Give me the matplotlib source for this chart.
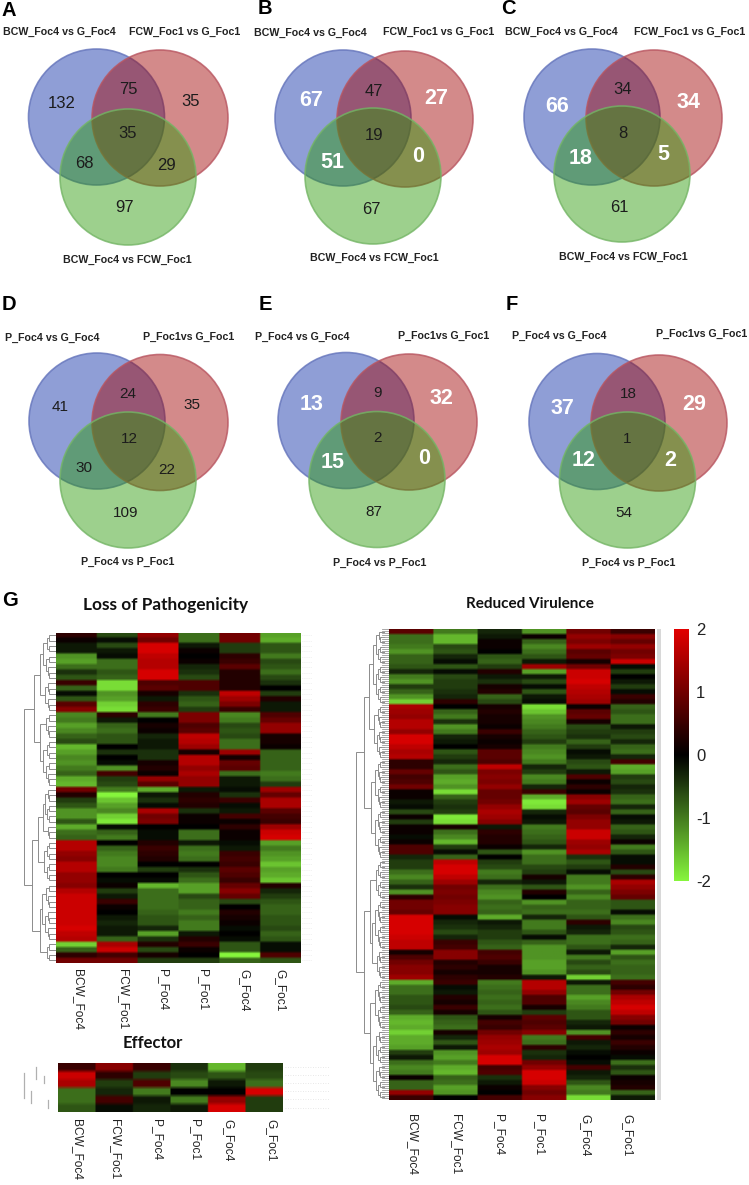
import numpy as np
from matplotlib import pyplot as plt
from matplotlib.cm import ScalarMappable
from matplotlib.colors import LinearSegmentedColormap, Normalize
from matplotlib.patches import Circle

plt.rcParams['font.family'] = ['Liberation Sans', 'DejaVu Sans']
plt.rcParams['axes.unicode_minus'] = False

W, H = 749, 1185

# venn counts: blue only, blue+red, red only, centre, blue+green, red+green, green only
venn_a = [132, 75, 35, 35, 68, 29, 97]
venn_b = [67, 47, 27, 19, 51, 0, 67]
venn_c = [66, 34, 34, 8, 18, 5, 61]
venn_d = [41, 24, 35, 12, 30, 22, 109]
venn_e = [13, 9, 32, 2, 15, 0, 87]
venn_f = [37, 18, 29, 1, 12, 2, 54]

bcw_left = 'BCW_Foc4 vs G_Foc4'
bcw_right = 'FCW_Foc1 vs G_Foc1'
bcw_bottom = 'BCW_Foc4 vs FCW_Foc1'
p_left = 'P_Foc4 vs G_Foc4'
p_right = 'P_Foc1vs G_Foc1'
p_bottom = 'P_Foc4 vs P_Foc1'

samples = ['BCW_Foc4', 'FCW_Foc1', 'P_Foc4', 'P_Foc1', 'G_Foc4', 'G_Foc1']

# Loss of Pathogenicity, one list per sample, rows top to bottom
lop_bcw = [0.4, 0.1, -0.2, -0.2, -1.2, -1.3, -0.9, -0.4, -0.7, 0.5, -0.8, -0.1, -0.7, 0.8, 1.2, -1.1, -1.0, -1.3, -1.1, -0.8, -0.6, -1.5, -1.3, -1.1, -1.2, -1.0, -0.8, -1.4, -1.5, 1.0, 0.3, -0.5, -0.7, -1.2, -1.2, -0.7, -1.4, -0.9, -0.8, 1.6, 1.6, 1.3, 1.2, 1.6, 1.6, 1.3, 1.3, 1.2, 1.6, 1.8, 1.8, 1.8, 1.8, 1.8, 1.8, 1.9, 1.7, 1.6, -1.7, -0.8, 0.4, 1.0]
lop_fcw = [-0.6, -0.1, -0.6, -0.2, -0.1, -0.9, -0.9, -0.7, -0.8, -1.8, -1.8, -1.2, -1.3, -1.7, -1.8, 0.4, -0.2, -0.8, -0.9, -0.7, -0.7, 0.0, -0.4, 0.0, -0.1, -1.2, 0.6, -0.5, -0.6, -1.0, -2.0, -1.6, -1.3, -1.1, -1.7, -1.9, -0.1, -0.8, -1.0, 0.0, -0.8, -1.0, -1.1, -1.1, -1.0, 0.0, -0.1, 0.1, -0.5, -0.2, 0.5, 0.1, 0.0, -0.2, -0.3, -0.2, -0.2, -0.8, 1.5, 1.8, 0.6, 1.0]
lop_p4 = [1.3, 1.0, 1.9, 1.9, 1.7, 1.6, 1.6, 1.9, 1.9, 0.7, 0.8, 0.2, -0.2, 0.4, 0.5, -1.0, 0.0, 0.2, 0.1, -0.3, -0.2, -0.2, -0.4, -0.4, 0.2, 0.3, 0.1, 1.3, 0.8, -1.4, -0.2, -0.4, -0.1, 1.5, 1.0, 1.1, 0.0, -0.1, -0.1, 0.3, 0.5, 0.4, 0.3, 0.0, -0.5, 0.0, -0.1, -1.5, -0.9, -0.9, -0.9, -0.9, -0.8, -0.7, -0.7, -0.3, -1.3, -0.4, 0.3, -0.6, 0.2, -0.5]
lop_p1 = [-0.9, -0.9, -0.2, 0.1, 0.0, 0.1, -0.3, -0.4, -0.6, 0.7, 0.7, -0.4, -0.7, -0.8, -0.5, 1.1, 1.1, 0.7, 0.8, 1.7, 1.6, 1.4, 0.2, 1.6, 1.6, 1.3, 1.5, 1.3, 1.3, -0.2, 0.3, 0.4, 0.3, -0.4, 0.1, 0.1, 0.0, -0.9, -0.9, -0.2, -0.9, -1.0, -0.9, 0.0, -0.4, -0.7, -0.9, -1.3, -1.3, -0.6, -0.8, -0.8, -1.0, -0.8, -1.0, -1.0, -0.2, 0.3, 0.5, 0.1, 0.0, -0.5]
lop_g4 = [1.0, 1.0, -0.5, -0.5, 0.4, 0.5, 0.8, 0.3, 0.3, 0.3, 0.3, 1.7, 1.4, 1.1, 0.5, -1.1, -1.0, -0.6, -0.7, -0.6, -0.9, -0.9, 1.4, 0.2, 0.9, 0.8, -0.9, -0.2, -0.2, -0.1, -0.4, 0.5, -0.1, -0.2, 0.6, 0.1, 0.4, 0.1, 0.1, -0.1, -0.2, 0.5, 0.6, 0.5, 0.8, 0.7, 0.5, 0.9, 1.2, 0.9, -0.6, 0.0, 0.3, 0.2, 0.1, -0.1, 0.0, -0.1, -0.7, -0.7, -2.0, -0.8]
lop_g1 = [-1.3, -1.4, -0.7, -0.7, -1.0, -0.6, -0.7, -0.9, -0.6, -0.4, 0.0, -0.5, 0.3, -0.2, -0.2, 0.7, 0.9, 1.3, 1.3, 0.2, 0.2, 0.1, -0.8, -0.8, -0.8, -0.8, -1.0, -0.9, -0.5, 1.4, 0.9, 1.5, 1.5, 0.8, 0.6, 0.5, 1.4, 1.8, 1.9, -1.3, -1.0, -1.2, -1.3, -1.6, -1.3, -1.4, -1.6, 0.3, -0.3, -0.5, -0.7, -0.8, -0.8, -0.7, -0.7, -0.6, -0.8, -0.7, -0.1, -0.1, 0.7, -0.7]

# Reduced Virulence
rv_bcw = [0.8, -0.9, -0.9, -1.0, -1.2, -0.8, -0.8, -0.7, -0.3, -1.0, -1.2, -0.5, -0.8, -1.2, -1.7, 1.5, 1.4, 1.3, 1.6, 1.6, 1.3, 1.9, 1.9, 1.7, 1.5, 1.6, 0.4, 0.4, 0.9, 0.6, 0.7, 1.0, 0.1, 0.1, -0.2, -0.1, -0.6, 0.1, -0.5, 0.1, 0.1, -0.1, 0.1, 0.7, 0.7, -0.3,
          -0.5, -0.5, -0.9, -1.1, -0.8, -0.4, -1.2, 0.4, 1.0, 1.0, 0.9, 1.9, 1.9, 1.9, 1.9, 1.8, 1.7, 1.7, 0.2, 0.7, 1.0, 1.2, 1.2, 1.4, -1.4, -0.9, -0.9, -0.7, -0.7, -0.6, -0.8, -1.4, -1.5, -1.4, -1.7, -1.4, -1.4, -1.3, -0.5, -0.2, -0.9, -1.1, -1.0, 0.1, -0.8, -0.8, 1.3, 0.5]
rv_fcw = [-1.0, -1.5, -1.5, -0.6, -0.7, -0.3, -0.1, -0.7, -0.1, -0.6, -0.5, -0.5, -0.4, -0.3, 0.4, 0.0, -0.8, -1.0, -0.4, -1.2, -1.0, -0.3, -0.2, 0.0, -0.7, -0.5, -0.3, -0.9, -0.7, -1.3, -1.4, -1.2, -1.8, -0.8, -0.5, -0.4, -0.5, -1.9, -1.8, 0.2, -0.9, -1.1, -1.5, -0.5, -0.1, -0.8,
          1.7, 1.9, 1.9, 1.7, 1.4, 1.0, 1.1, 1.0, 1.1, 1.2, 1.2, -0.1, -0.3, -0.4, -0.6, -0.3, 0.5, 0.6, 1.2, 1.2, 0.3, 0.4, 0.2, 0.4, 0.5, -0.1, -0.2, 0.3, 0.2, 0.5, 0.2, -0.7, -0.8, -0.9, 0.2, -0.3, -0.7, -0.2, -1.2, -1.3, -1.0, -1.4, -1.5, -0.8, -0.9, -1.3, -1.2, 0.0]
rv_p4 = [-0.3, -0.2, 0.1, 0.1, 0.0, -0.7, -0.8, -0.5, 0.3, -0.2, -0.4, 0.2, 0.3, -0.8, -0.6, 0.2, 0.3, 0.2, 0.2, 0.1, 0.5, 0.2, 0.1, 0.2, 0.8, 0.8, 0.7, 1.7, 1.1, 1.2, 1.1, 1.3, 0.9, 0.9, 1.0, 1.3, 1.5, 1.4, 1.2, -0.2, 0.4, 0.3, 0.3, 0.1, -0.7, 0.0,
         -0.5, -0.6, -1.0, -0.9, -0.3, -0.9, -1.1, -1.2, -0.8, -0.9, -0.8, -1.4, -0.2, -0.3, -0.5, -0.5, -0.7, -0.8, 0.6, 0.7, 0.5, 0.2, 0.2, 0.3, -1.0, -0.9, -0.8, -0.9, -0.8, -0.9, -0.7, 0.2, 0.6, 0.5, 1.0, 1.3, 1.4, 1.5, 1.4, 1.9, 1.9, 0.6, 0.7, -0.4, -0.2, 0.1, 0.0, 0.6]
rv_p1 = [-1.2, 0.1, -0.8, -1.1, -0.9, -0.7, -0.2, 1.4, -1.3, -0.2, -0.6, -0.1, -0.7, -0.2, -0.1, -1.8, -1.6, -1.2, -1.1, -1.0, -0.8, -0.7, -0.5, -1.0, -1.1, -1.2, -1.0, -0.3, -0.5, -1.1, -1.0, -0.3, 0.5, -1.4, -1.9, -1.8, -0.3, -0.1, -0.2, -1.0, -0.9, -0.8, -0.7, -0.3, -1.2, -0.9,
         -0.9, -0.6, -0.5, 0.2, -0.2, -0.7, 0.3, 0.0, -1.2, -0.8, -0.9, -0.3, -1.0, -1.0, -0.7, -0.1, -0.8, -1.2, -1.2, -1.2, -1.3, -1.3, -1.2, -0.2, 1.6, 1.6, 1.3, 0.7, 0.7, 0.2, -0.5, 0.8, 0.7, 0.8, 1.2, -1.0, -0.9, 0.4, -0.4, -0.3, 1.0, 1.3, 1.9, 1.9, 1.8, 1.2, 1.0, 1.2]
rv_g4 = [1.0, 1.3, 1.1, 1.4, 0.8, 0.9, 0.2, 1.0, 1.8, 1.8, 1.9, 1.7, 1.6, 1.5, 1.4, 0.1, 0.8, 0.9, 0.2, -0.6, -0.5, -0.4, -0.8, -0.5, -0.1, -0.2, -0.6, -0.7, -0.2, 0.7, 0.1, 0.4, 0.1, 1.2, 1.4, 0.9, 0.8, 1.1, 1.3, 1.3, 1.8, 1.8, 1.4, 1.3, 1.5, -0.4,
         -0.7, -0.5, -0.1, -1.0, -1.0, -1.2, -0.8, -1.1, -0.8, -0.8, -0.9, -0.7, 0.4, -0.2, -0.3, -0.9, -0.9, -0.7, -0.2, -1.0, -0.6, -0.8, -0.6, -1.7, -0.2, -0.9, -0.9, -1.3, -1.1, -1.0, -0.7, -0.7, -0.3, -0.2, -1.2, 0.6, -0.2, -0.3, -0.1, 0.0, -0.1, 0.6, -0.2, -0.3, -0.7, -1.1, -1.0, -1.8]
rv_g1 = [0.5, 1.2, 0.9, 1.3, 1.0, 1.1, 1.8, -0.1, -0.5, 0.0, -0.2, -0.5, -0.1, 0.5, 0.3, -0.8, -0.7, -0.9, -0.9, -0.2, -0.5, -0.6, -0.3, -0.8, -0.9, -0.3, 0.6, -1.4, -1.3, -0.5, -0.6, -0.3, -0.4, -0.8, -0.9, -0.3, -0.8, -0.1, -0.2, -0.8, -0.7, -0.3, 0.1, -1.0, -0.7, -0.1,
         -0.1, 0.3, -0.6, 0.4, 1.5, 1.3, 1.1, 0.9, -0.7, -0.7, -0.1, -0.9, -1.1, -0.6, -0.7, -0.9, -0.8, -0.3, -1.3, -0.7, -0.9, -0.8, -0.8, -0.9, 0.6, 0.4, 1.0, 1.5, 1.7, 1.9, 1.7, 1.2, 1.0, 0.1, 0.4, 0.2, 0.5, 0.3, 0.1, -0.1, -0.9, -0.4, -0.7, 0.1, 0.2, 0.3, -0.8, -0.2]

# Effector
eff_bcw = [0.5, 1.8, 1.5, -0.9, -0.9, -0.7]
eff_fcw = [1.2, 0.4, -0.5, -0.3, 0.6, -0.1]
eff_p4 = [0.5, -0.5, 0.7, -1.0, -0.2, -0.3]
eff_p1 = [-0.4, -0.6, -1.1, 0.0, -1.0, -0.2]
eff_g4 = [-1.5, -0.7, -0.2, 0.0, 1.3, 1.9]
eff_g1 = [-0.5, -0.6, -0.9, 1.9, -0.5, -0.5]

BLUE = ('#0c2ca6', '#6474bb')
RED = ('#a10101', '#b85560')
GREEN = ('#2a9907', '#74b565')
heat_cmap = LinearSegmentedColormap.from_list('gbr', ['#86f53c', '#000000', '#e10000'])
norm = Normalize(-2, 2)


def px_axes(x0, y0, x1, y1):
    # axes from pixel box, y counted from the top of the picture
    return fig.add_axes([x0 / W, 1 - y1 / H, (x1 - x0) / W, (y1 - y0) / H])


def venn(counts, centres, spots, white, names, name_spots, small):
    for (cx, cy), (face, edge) in zip(centres, [BLUE, RED, GREEN]):
        ax.add_patch(Circle((cx, cy), 68, facecolor=face, alpha=0.46, lw=0))
        ax.add_patch(Circle((cx, cy), 68, fill=False, edgecolor=edge, lw=1.2, alpha=0.8))
    for i, (val, (x, y)) in enumerate(zip(counts, spots)):
        if i in white:
            ax.text(x, y, str(val), color='white', fontsize=15.5, fontweight='bold', ha='center', va='center')
        else:
            ax.text(x, y, str(val), color='#1c1c1c', fontsize=small, ha='center', va='center')
    for name, (x, y) in zip(names, name_spots):
        ax.text(x, y, name, fontsize=7.7, fontweight='bold', color='#222222', ha='center', va='center')


def draw_tree(lo, hi, cuts, x_leaf, x_root, n, y0, row_h, lw):
    if hi - lo == 1:
        return lo + 0.5, x_leaf
    inner = [c for c in cuts if lo < c < hi]
    mid = (lo + hi) / 2
    cut = min(inner, key=lambda c: abs(c - mid)) if inner else int(mid)
    y1, x1 = draw_tree(lo, cut, cuts, x_leaf, x_root, n, y0, row_h, lw)
    y2, x2 = draw_tree(cut, hi, cuts, x_leaf, x_root, n, y0, row_h, lw)
    x = x_leaf - (x_leaf - x_root) * ((hi - lo) / n) ** 0.5
    ax.plot([x1, x, x, x2], [y0 + y1 * row_h, y0 + y1 * row_h, y0 + y2 * row_h, y0 + y2 * row_h],
            color='#8c8c8c', lw=lw, solid_joinstyle='miter')
    return (y1 + y2) / 2, x


def heatmap(columns, box, label_x, label_gap):
    data = np.array(columns).T
    hax = px_axes(*box)
    # repeat cells so the smoothing stays near the cell edges
    hax.imshow(np.repeat(np.repeat(data, 24, axis=1), 2, axis=0), cmap=heat_cmap, norm=norm, aspect='auto',
               interpolation='bilinear', extent=(-0.5, 5.5, data.shape[0] - 0.5, -0.5))
    col_w = (box[2] - box[0]) / 6
    hax.set_xticks([(x - box[0]) / col_w - 0.5 for x in label_x])
    hax.set_xticklabels(samples, rotation=-90, fontsize=8.6, color='#222222')
    hax.tick_params(axis='x', length=0, pad=label_gap)
    hax.set_yticks([])
    for s in hax.spines.values():
        s.set_visible(False)
    return data.shape[0]


fig = plt.figure(figsize=(W / 100, H / 100), dpi=100)
ax = fig.add_axes([0, 0, 1, 1])
ax.set_xlim(0, W)
ax.set_ylim(H, 0)
ax.axis('off')

# top row of venns
venn(venn_a, [(96.5, 117), (160, 118), (128, 177)],
     [(62, 103), (128, 90), (191, 101), (128, 134), (84, 164), (166, 166), (125, 208)], [],
     [bcw_left, bcw_right, bcw_bottom], [(59, 32), (185, 32), (127, 260)], 12)
venn(venn_b, [(343, 118), (405, 119), (373, 176)],
     [(311, 101), (374, 91), (436, 99), (374, 135), (332, 163), (418, 156), (371, 209)], [0, 2, 4, 5],
     [bcw_left, bcw_right, bcw_bottom], [(310, 33), (439, 32), (374, 258)], 12)
venn(venn_c, [(592, 117), (654, 118), (622, 174)],
     [(557, 107), (623, 90), (688, 103), (623, 133), (581, 159), (663, 154), (619, 207)], [0, 2, 4, 5],
     [bcw_left, bcw_right, bcw_bottom], [(561, 32), (690, 32), (623, 257)], 12)

# second row of venns
venn(venn_d, [(97, 421), (160, 422.5), (128, 480)],
     [(60, 407), (128, 394), (192, 405), (129, 439), (84, 468), (167, 470), (126, 513)], [],
     [p_left, p_right, p_bottom], [(52, 338), (189, 337), (128, 562)], 11)
venn(venn_e, [(346, 420.5), (409, 422), (377, 479.5)],
     [(312, 404), (377, 393), (441, 398), (377, 438), (333, 463), (424, 459), (374, 512)], [0, 2, 4, 5],
     [p_left, p_right, p_bottom], [(302, 337), (444, 336), (380, 563)], 11)
venn(venn_f, [(597, 421.5), (659, 423), (627.5, 480)],
     [(562, 409), (628, 394), (694, 405), (627, 439), (584, 460), (670, 460), (624, 513)], [0, 2, 4, 5],
     [p_left, p_right, p_bottom], [(559, 336), (702, 334), (629, 563)], 11)

for letter, x, y in [('A', 2, 10), ('B', 258, 9), ('C', 501, 9), ('D', 2, 305), ('E', 259, 305), ('F', 506, 305), ('G', 2, 600)]:
    ax.text(x, y, letter, fontsize=14.5, fontweight='bold', color='black', ha='left', va='center')

# heatmaps
n_lop = heatmap([lop_bcw, lop_fcw, lop_p4, lop_p1, lop_g4, lop_g1], (55.7, 632.7, 300, 963),
                [78, 123, 163, 203, 244, 280], 4)
n_rv = heatmap([rv_bcw, rv_fcw, rv_p4, rv_p1, rv_g4, rv_g1], (389.3, 629, 655.3, 1100),
               [412, 456, 499, 539, 585, 627], 10)
n_eff = heatmap([eff_bcw, eff_fcw, eff_p4, eff_p1, eff_g4, eff_g1], (58.3, 1062.7, 282.7, 1111.7),
                [77, 115, 157, 195, 228, 271], 5)

ax.text(166, 605, 'Loss of Pathogenicity', family='Lato', fontweight='bold', fontsize=12.4, ha='center', va='center', color='#111111')
ax.text(530, 604, 'Reduced Virulence', family='Lato', fontweight='bold', fontsize=11, ha='center', va='center', color='#111111')
ax.text(153, 1043, 'Effector', family='Lato', fontweight='bold', fontsize=12, ha='center', va='center', color='#111111')

# dendrograms
row_h = (963 - 632.7) / n_lop
draw_tree(0, n_lop, [9, 15, 20, 29, 36, 39, 47, 58], 55, 24, n_lop, 632.7, row_h, 0.7)
for r in range(n_lop):
    ax.plot([302, 312], [632.7 + (r + 0.5) * row_h] * 2, color='#e0e0e0', lw=0.5, ls=(0, (1, 2)))

row_h = (1100 - 629) / n_rv
draw_tree(0, n_rv, [15, 26, 46, 54, 64, 70, 80], 384, 356, n_rv, 629, row_h, 0.7)
for r in np.arange(0, n_rv, 0.4):
    ax.plot([382, 389.3], [629 + r * row_h] * 2, color='#9a9a9a', lw=0.6)
ax.fill_betweenx([629, 1100], 657, 661, color='#d8d8d8', lw=0)

# effector tree and row labels
for x, y0, y1 in [(36, 1067, 1079), (44, 1076, 1083), (24, 1073, 1098), (31, 1091, 1103), (48, 1100, 1108)]:
    ax.plot([x, x], [y0, y1], color='#b0b0b0', lw=0.9)
row_h = (1111.7 - 1062.7) / n_eff
for r in range(n_eff):
    ax.plot([285, 330], [1062.7 + (r + 0.5) * row_h] * 2, color='#e0e0e0', lw=0.6, ls=(0, (1, 2)))

# colour key
cax = px_axes(674, 629, 689, 881)
cb = fig.colorbar(ScalarMappable(norm=norm, cmap=heat_cmap), cax=cax, ticks=[2, 1, 0, -1, -2])
cb.outline.set_visible(False)
cb.ax.tick_params(length=0, pad=5, labelsize=12, labelcolor='#222222')

fig.savefig('out.png', dpi=100)
